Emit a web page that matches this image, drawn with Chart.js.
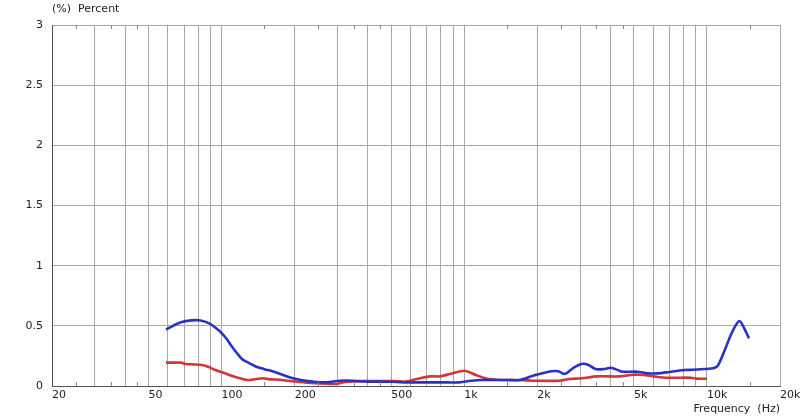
<!DOCTYPE html>
<html>
<head>
<meta charset="utf-8">
<script src="https://cdn.jsdelivr.net/npm/chart.js@4.4.1/dist/chart.umd.min.js"></script>
<style>
  html, body { margin: 0; padding: 0; background: #ffffff; }
  #wrap { width: 800px; height: 417px; position: relative; }
</style>
</head>
<body>
<div id="wrap"><canvas id="c" width="800" height="417"></canvas></div>
<script>
// ---- Data ----
const blueFreq = [59, 63, 68, 75, 82, 89, 95, 100, 105, 110, 116, 122, 130, 139, 150, 163, 180, 197, 215, 238, 271, 307, 348, 400, 450, 500, 560, 650, 750, 850, 950, 1026, 1160, 1300, 1500, 1700, 1865, 2040, 2290, 2440, 2600, 2800, 3045, 3250, 3470, 3760, 4010, 4200, 4480, 5160, 5690, 6260, 6890, 7500, 8080, 8760, 9800, 10400, 10780, 11130, 11800, 12450, 13100, 13620, 14160, 14900];
const blueVals = [0.47, 0.50, 0.53, 0.545, 0.545, 0.52, 0.48, 0.44, 0.39, 0.33, 0.27, 0.22, 0.19, 0.16, 0.14, 0.12, 0.09, 0.064, 0.048, 0.036, 0.03, 0.044, 0.044, 0.036, 0.036, 0.035, 0.03, 0.03, 0.03, 0.03, 0.03, 0.04, 0.05, 0.05, 0.05, 0.05, 0.077, 0.10, 0.122, 0.122, 0.10, 0.147, 0.183, 0.175, 0.141, 0.141, 0.152, 0.14, 0.119, 0.119, 0.105, 0.105, 0.114, 0.125, 0.133, 0.135, 0.141, 0.145, 0.152, 0.174, 0.29, 0.41, 0.50, 0.54, 0.49, 0.396];

const redFreq = [59, 63, 68, 71, 76, 83, 88, 94, 105, 115, 127, 139, 148, 158, 173, 191, 224, 271, 298, 328, 397, 500, 545, 560, 600, 636, 722, 794, 873, 1004, 1116, 1264, 1443, 1700, 1925, 2470, 2710, 3045, 3520, 4400, 4980, 5480, 6040, 6890, 8620, 9060, 10000];
const redVals = [0.194, 0.194, 0.194, 0.183, 0.18, 0.174, 0.16, 0.133, 0.10, 0.072, 0.05, 0.058, 0.064, 0.055, 0.052, 0.041, 0.028, 0.019, 0.017, 0.036, 0.041, 0.041, 0.04, 0.035, 0.045, 0.058, 0.08, 0.08, 0.10, 0.127, 0.091, 0.058, 0.05, 0.05, 0.044, 0.044, 0.058, 0.064, 0.08, 0.08, 0.094, 0.091, 0.08, 0.069, 0.069, 0.061, 0.061];

const gridFreqs = [20, 30, 40, 50, 60, 70, 80, 90, 100, 200, 300, 400, 500, 600, 700, 800, 900, 1000, 2000, 3000, 4000, 5000, 6000, 7000, 8000, 9000, 10000, 20000];
const xLabelValues = [20, 50, 100, 200, 500, 1000, 2000, 5000, 10000, 20000];
const xLabelTexts  = ['20', '50', '100', '200', '500', '1k', '2k', '5k', '10k', '20k'];
const minorTickFreqs = [25, 35, 45, 150, 250, 350, 450, 1500, 2500, 3500, 4500, 15000];
const yTickLabels = ['0', '0.5', '1', '1.5', '2', '2.5', '3'];

const yTitle = '(%)  Percent';
const xTitle = 'Frequency  (Hz)';

const FONT = 'DejaVu Sans, Verdana, sans-serif';

const toPts = (fs, vs) => fs.map((f, i) => ({ x: f, y: vs[i] }));

const extrasPlugin = {
  id: 'extras',
  afterDraw(chart) {
    const ctx = chart.ctx;
    const xs = chart.scales.x;
    const a = chart.chartArea;
    ctx.save();
    ctx.strokeStyle = '#888888';
    ctx.lineWidth = 1;
    minorTickFreqs.forEach(f => {
      const px = Math.round(xs.getPixelForValue(f)) + 0.5;
      ctx.beginPath();
      ctx.moveTo(px, a.top); ctx.lineTo(px, a.top + 4);
      ctx.moveTo(px, a.bottom); ctx.lineTo(px, a.bottom - 4);
      ctx.stroke();
    });
    ctx.fillStyle = '#222222';
    ctx.font = '11px ' + FONT;
    ctx.textAlign = 'left';
    ctx.textBaseline = 'middle';
    ctx.fillText(yTitle, a.left, 9);
    ctx.restore();
  }
};

new Chart(document.getElementById('c'), {
  type: 'line',
  data: {
    datasets: [
      { label: 'Blue', data: toPts(blueFreq, blueVals), borderColor: '#2a32c4', borderWidth: 2.6, pointRadius: 0, tension: 0.3, fill: false },
      { label: 'Red', data: toPts(redFreq, redVals), borderColor: '#d5343a', borderWidth: 2.6, pointRadius: 0, tension: 0.3, fill: false }
    ]
  },
  options: {
    responsive: false,
    animation: false,
    devicePixelRatio: 1,
    layout: { padding: { top: 25, right: 20, left: 0, bottom: 0 } },
    plugins: { legend: { display: false }, tooltip: { enabled: false } },
    scales: {
      x: {
        type: 'logarithmic',
        min: 20, max: 20000,
        afterBuildTicks(scale) { scale.ticks = gridFreqs.map(v => ({ value: v })); },
        afterFit(scale) { scale.height = 31; scale.paddingLeft = 0; scale.paddingRight = 0; },
        ticks: {
          autoSkip: false, maxRotation: 0, minRotation: 0, align: 'start', padding: 3,
          color: '#222222', font: { family: FONT, size: 11 },
          callback(value) {
            const i = xLabelValues.indexOf(value);
            return i >= 0 ? xLabelTexts[i] : '';
          }
        },
        grid: { color: '#a8a8a8', lineWidth: 1, drawTicks: false },
        border: { display: true, color: '#555555', width: 1 },
        title: { display: true, text: xTitle, align: 'end', color: '#222222', font: { family: FONT, size: 11 }, padding: { top: 0, bottom: 1 } }
      },
      y: {
        type: 'linear',
        min: 0, max: 3,
        afterBuildTicks(scale) { scale.ticks = yTickLabels.map(t => ({ value: parseFloat(t) })); },
        afterFit(scale) { scale.width = 52; },
        ticks: {
          padding: 9, color: '#222222', font: { family: FONT, size: 11 },
          callback(value) {
            const i = yTickLabels.map(parseFloat).indexOf(value);
            return i >= 0 ? yTickLabels[i] : '';
          }
        },
        grid: { color: '#a8a8a8', lineWidth: 1, drawTicks: false },
        border: { display: true, color: '#555555', width: 1 }
      }
    }
  },
  plugins: [extrasPlugin]
});
</script>
</body>
</html>
